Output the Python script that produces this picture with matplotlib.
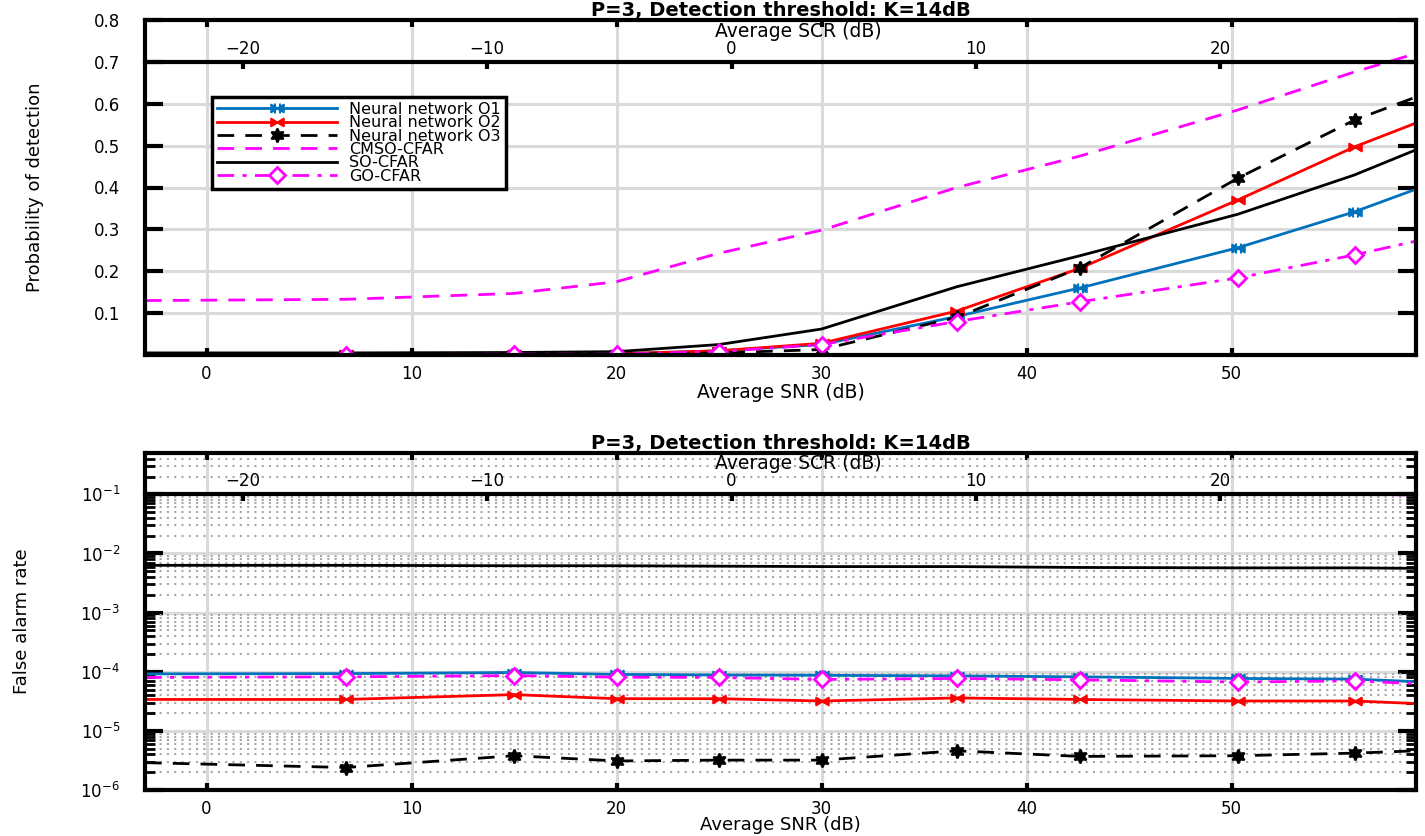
import numpy as np
import matplotlib
matplotlib.use('Agg')
import matplotlib.pyplot as plt
from matplotlib.path import Path

# SNR sample points (dB)
snr = [-3, 6.8, 15, 20, 25, 30, 36.6, 42.6, 50.3, 56, 59]
scr_ticks = [-20, -10, 0, 10, 20]

# probability of detection
pd_o1 = [0.002, 0.002, 0.002, 0.003, 0.010, 0.025, 0.092, 0.160, 0.256, 0.342, 0.396]
pd_o2 = [0.002, 0.002, 0.002, 0.003, 0.010, 0.028, 0.105, 0.207, 0.370, 0.497, 0.554]
pd_o3 = [0.001, 0.001, 0.001, 0.002, 0.005, 0.013, 0.090, 0.208, 0.422, 0.561, 0.616]
pd_cmso = [0.130, 0.133, 0.147, 0.175, 0.243, 0.298, 0.400, 0.475, 0.585, 0.676, 0.720]
pd_so = [0.005, 0.005, 0.006, 0.008, 0.025, 0.062, 0.163, 0.237, 0.336, 0.430, 0.490]
pd_go = [0.001, 0.001, 0.002, 0.002, 0.008, 0.025, 0.080, 0.127, 0.184, 0.239, 0.272]

# false alarm rate
fa_o1 = [9.2e-5, 9.3e-5, 9.7e-5, 9.0e-5, 8.8e-5, 8.7e-5, 8.5e-5, 8.2e-5, 7.7e-5, 7.5e-5, 6.8e-5]
fa_o2 = [3.4e-5, 3.4e-5, 4.1e-5, 3.5e-5, 3.5e-5, 3.2e-5, 3.6e-5, 3.4e-5, 3.2e-5, 3.2e-5, 2.9e-5]
fa_o3 = [2.9e-6, 2.4e-6, 3.8e-6, 3.1e-6, 3.2e-6, 3.2e-6, 4.6e-6, 3.7e-6, 3.8e-6, 4.2e-6, 4.6e-6]
fa_cmso = [0.103, 0.103, 0.102, 0.102, 0.101, 0.101, 0.100, 0.100, 0.099, 0.099, 0.098]
fa_so = [0.0063, 0.0063, 0.0062, 0.0062, 0.0061, 0.0060, 0.0060, 0.0058, 0.0057, 0.0057, 0.0056]
fa_go = [8.0e-5, 8.2e-5, 8.6e-5, 8.1e-5, 8.0e-5, 7.4e-5, 7.7e-5, 7.3e-5, 6.7e-5, 7.0e-5, 6.3e-5]

labels = ['Neural network O1', 'Neural network O2', 'Neural network O3',
          'CMSO-CFAR', 'SO-CFAR', 'GO-CFAR']
title = 'P=3, Detection threshold: K=14dB'

plt.rcParams['font.family'] = ['DejaVu Sans']
BLUE = '#0072BD'
RED = '#FF0000'
MAG = '#FF00FF'
GRID = '#DADADA'

# bowtie markers
bow = Path([(-1, -0.6), (0, 0), (-1, 0.6), (-1, -0.6), (1, -0.6), (0, 0), (1, 0.6), (1, -0.6)],
           [1, 2, 2, 79, 1, 2, 2, 79])
bow_bar = Path([(-1, -0.6), (0, 0), (-1, 0.6), (-1, -0.6), (1, -0.6), (0, 0), (1, 0.6), (1, -0.6),
                (-0.4, -0.8), (-0.4, 0.8), (0.4, -0.8), (0.4, 0.8)],
               [1, 2, 2, 79, 1, 2, 2, 79, 1, 2, 1, 2])
mk = list(range(1, 10))


def draw_series(ax, vals):
    o1, o2, o3, cm, so, go = vals
    ax.plot(snr, o1, color=BLUE, lw=2, marker=bow_bar, ms=9, mew=1.5, markevery=mk, label=labels[0])
    ax.plot(snr, o2, color=RED, lw=2, marker=bow, ms=9, mew=1.5, markevery=mk, label=labels[1])
    ax.plot(snr, o3, color='black', lw=2, ls=(0, (6, 4)), marker=(6, 1, 0), ms=10, mew=1.5,
            markevery=mk, label=labels[2])
    ax.plot(snr, cm, color=MAG, lw=2, ls=(0, (6, 4)), label=labels[3])
    ax.plot(snr, so, color='black', lw=2, label=labels[4])
    ax.plot(snr, go, color=MAG, lw=2, ls=(0, (6, 3, 1.5, 3)), marker='D', ms=8, mew=2,
            mfc='white', mec=MAG, markevery=mk, label=labels[5])


def style_main(ax):
    ax.set_xlim(-3, 59)
    ax.set_xticks([0, 10, 20, 30, 40, 50])
    ax.set_axisbelow(True)
    ax.grid(True, which='major', color=GRID, lw=2.2)
    for s in ax.spines.values():
        s.set_linewidth(3)
    ax.tick_params(axis='x', which='major', direction='in', length=5, width=3, labelsize=12,
                   top=True, pad=7)
    ax.tick_params(axis='y', which='major', direction='in', length=13, width=3, labelsize=12,
                   right=True, pad=18)
    ax.tick_params(axis='y', which='minor', direction='in', length=7, width=2, right=True)
    ax.set_xlabel('Average SNR (dB)', fontsize=13.5, labelpad=0)
    ax.set_title(title, fontsize=14, fontweight='bold', pad=3)


def add_scr(fig, ax, frac):
    pos = ax.get_position()
    ax2 = fig.add_axes([pos.x0, pos.y0, pos.width, pos.height * frac])
    ax2.patch.set_visible(False)
    for k in ['left', 'right', 'bottom']:
        ax2.spines[k].set_visible(False)
    ax2.spines['top'].set_linewidth(3)
    ax2.set_xlim(-24, 28)
    ax2.set_xticks(scr_ticks)
    ax2.set_yticks([])
    ax2.xaxis.tick_top()
    ax2.xaxis.set_label_position('top')
    ax2.tick_params(direction='in', length=5, width=3, labelsize=12, pad=3)
    ax2.set_xlabel('Average SCR (dB)', fontsize=13.5, labelpad=1)
    ax2.xaxis.set_label_coords((798 - 145) / 1271, 1.0 + 25 / (pos.height * frac * 836))
    return ax2


fig = plt.figure(figsize=(14.25, 8.36), dpi=100)
L, W = 145 / 1425, 1271 / 1425

# top: probability of detection
ax1 = fig.add_axes([L, 1 - 355 / 836, W, 335 / 836])
draw_series(ax1, [pd_o1, pd_o2, pd_o3, pd_cmso, pd_so, pd_go])
style_main(ax1)
ax1.set_ylim(0, 0.8)
ax1.set_yticks([0.1, 0.2, 0.3, 0.4, 0.5, 0.6, 0.7, 0.8])
ax1.set_ylabel('Probability of detection', fontsize=13)
ax1.yaxis.set_label_coords(-0.0795, 0.5)
leg = ax1.legend(loc='upper left', bbox_to_anchor=(0.0527, 0.770), borderaxespad=0,
                 fontsize=11.5, handlelength=7.5, labelspacing=-0.1, borderpad=0.3,
                 handletextpad=0.8, fancybox=False, framealpha=1, edgecolor='black')
leg.get_frame().set_linewidth(2.5)
add_scr(fig, ax1, 0.7 / 0.8)

# bottom: false alarm rate
ax3 = fig.add_axes([L, 1 - 790 / 836, W, 337 / 836])
draw_series(ax3, [fa_o1, fa_o2, fa_o3, fa_cmso, fa_so, fa_go])
ax3.set_yscale('log')
ax3.set_ylim(1e-6, 0.5)
ax3.set_yticks([1e-6, 1e-5, 1e-4, 1e-3, 1e-2, 1e-1])
ax3.set_yticklabels([r'$10^{-6}$', r'$10^{-5}$', r'$10^{-4}$', r'$10^{-3}$', r'$10^{-2}$', r'$10^{-1}$'])
style_main(ax3)
ax3.grid(True, which='minor', axis='y', color='#A8A8A8', lw=1.5, ls=(0, (1, 2.5)))
ax3.set_xlabel('Average SNR (dB)', fontsize=13, labelpad=-1)
ax3.set_ylabel('False alarm rate', fontsize=13)
ax3.yaxis.set_label_coords(-0.0897, 0.5)
add_scr(fig, ax3, (np.log10(0.1) - np.log10(1e-6)) / (np.log10(0.5) - np.log10(1e-6)))

plt.savefig('out.png', dpi=100)
